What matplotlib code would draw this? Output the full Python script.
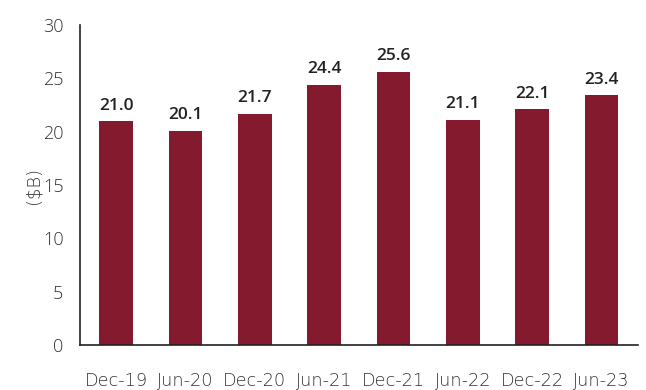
import matplotlib.pyplot as plt
import numpy as np

periods = ['Dec-19', 'Jun-20', 'Dec-20', 'Jun-21', 'Dec-21', 'Jun-22', 'Dec-22', 'Jun-23']
values = [21.0, 20.1, 21.7, 24.4, 25.6, 21.1, 22.1, 23.4]
yticks = [0, 5, 10, 15, 20, 25, 30]

BAR = '#841A2E'
TXT = '#333333'

plt.rcParams['font.family'] = ['Open Sans', 'DejaVu Sans']

fig = plt.figure(figsize=(6.46, 3.9), dpi=100)
ax = fig.add_axes([0.124, 0.115, 0.864, 0.821])

x = np.arange(len(periods))
ax.bar(x, values, width=0.49, color=BAR, zorder=2)

for xi, v in zip(x, values):
    ax.text(xi, v + 0.7, f'{v:.1f}', ha='center', va='bottom',
            fontsize=12.5, fontweight='semibold', color='#222222')

ax.set_xlim(-0.52, len(periods) - 0.47)
ax.set_ylim(0, 30)
ax.set_yticks(yticks)
ax.set_xticks(x)
ax.set_xticklabels(periods, fontsize=12.8, color=TXT, fontweight='light',
                   family='DejaVu Sans')
for lab in ax.get_yticklabels():
    lab.set_fontweight('light')
ax.tick_params(axis='y', length=0, labelsize=13, labelcolor=TXT, pad=12)
ax.tick_params(axis='x', length=0, pad=19)
ax.set_ylabel('($B)', fontsize=13, color=TXT, labelpad=0, fontweight='light',
              family='DejaVu Sans')

for s in ['top', 'right']:
    ax.spines[s].set_visible(False)
for s in ['left', 'bottom']:
    ax.spines[s].set_color('#222222')
    ax.spines[s].set_linewidth(1.2)

fig.savefig('out.png', dpi=100)
